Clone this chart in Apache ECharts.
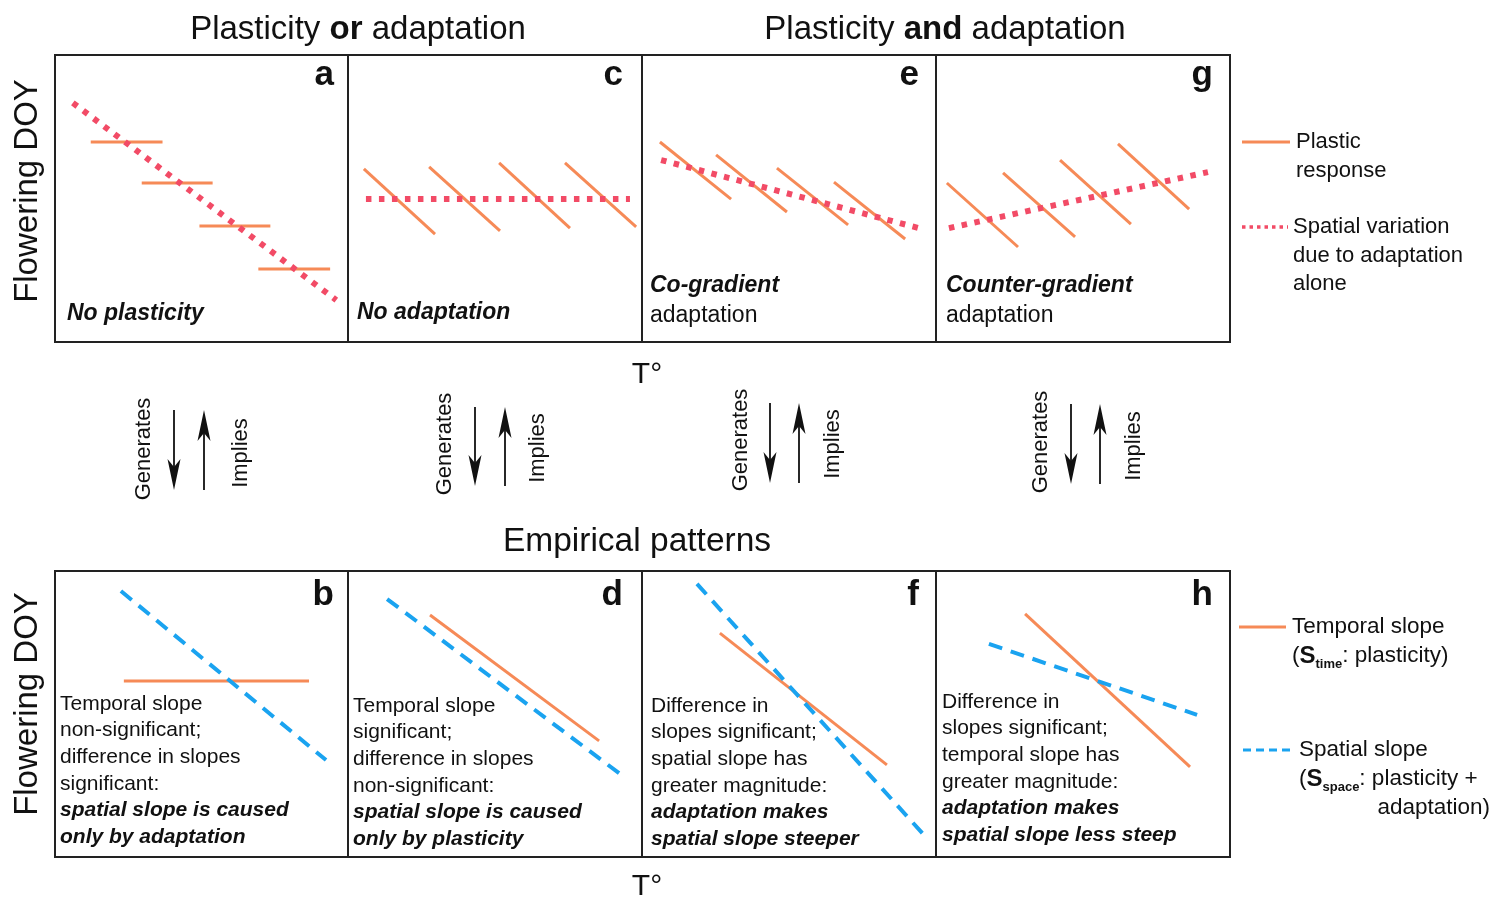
<!DOCTYPE html>
<html>
<head>
<meta charset="utf-8">
<script src="https://cdn.jsdelivr.net/npm/echarts@6/dist/echarts.min.js"></script>
<style>html,body{margin:0;padding:0;background:#fff;}#c{width:1493px;height:897px;}</style>
</head>
<body>
<div id="c"></div>
<script>
// ---- DATA (panel units: x = temperature 0-100, y = flowering DOY 0-100) ----
// segments as [x1, y1, x2, y2]
const panelA_plastic = [[12.2,69.7,36.7,69.7],[29.6,55.4,53.8,55.4],[49.3,40.4,73.5,40.4],[69.4,25.4,93.9,25.4]];
const panelA_spatial = [[6.1,83.3,96.0,14.6]];
const panelC_plastic = [[5.4,60.3,29.6,37.6],[27.6,61.0,51.7,38.7],[51.4,62.4,75.5,39.7],[73.8,62.4,98.0,40.1]];
const panelC_spatial = [[6.1,49.8,95.9,49.8]];
const panelE_plastic = [[6.1,69.7,30.3,49.8],[25.2,65.2,49.3,45.3],[45.9,60.6,70.1,40.8],[65.3,55.7,89.5,35.9]];
const panelE_spatial = [[6.5,63.4,95.2,39.4]];
const panelG_plastic = [[3.7,55.4,27.9,33.1],[22.8,58.9,47.3,36.6],[42.2,63.4,66.3,41.1],[61.9,69.0,86.1,46.3]];
const panelG_spatial = [[4.4,39.7,92.5,59.2]];
const panelB_temporal = [[23.5,61.5,86.7,61.5]];
const panelB_spatialSlope = [[22.5,93.0,92.5,33.9]];
const panelD_temporal = [[27.9,84.6,85.4,40.6]];
const panelD_spatialSlope = [[13.3,90.2,93.9,28.0]];
const panelF_temporal = [[26.5,78.3,83.3,32.2]];
const panelF_spatialSlope = [[18.7,95.5,95.9,7.7]];
const panelH_temporal = [[30.3,85.0,86.4,31.5]];
const panelH_spatialSlope = [[18.0,74.5,88.8,49.7]];

const panelLetters = ['a','c','e','g','b','d','f','h'];
const topNotes = [
  ['{bi|No plasticity}'],
  ['{bi|No adaptation}'],
  ['{bi|Co-gradient}','{r|adaptation}'],
  ['{bi|Counter-gradient}','{r|adaptation}']
];
const bottomNotes = [
  ['Temporal slope','non-significant;','difference in slopes','significant:','{bi|spatial slope is caused}','{bi|only by adaptation}'],
  ['Temporal slope','significant;','difference in slopes','non-significant:','{bi|spatial slope is caused}','{bi|only by plasticity}'],
  ['Difference in','slopes significant;','spatial slope has','greater magnitude:','{bi|adaptation makes}','{bi|spatial slope steeper}'],
  ['Difference in','slopes significant;','temporal slope has','greater magnitude:','{bi|adaptation makes}','{bi|spatial slope less steep}']
];

// ---- STYLES ----
const ORANGE = '#F68A57';
const RED = '#F24B66';
const BLUE = '#1AA3F0';
const FONT = '"Liberation Sans", Arial, sans-serif';

const styles = {
  plastic: {color: ORANGE, width: 3, type: 'solid'},
  spatial: {color: RED, width: 6, type: [5.5, 7.5]},
  temporal: {color: ORANGE, width: 3, type: 'solid'},
  spatialSlope: {color: BLUE, width: 4, type: [14, 9]}
};

const lefts = [55, 348, 642, 936];
const widths = [293, 294, 294, 294];
const grids = [];
for (let r = 0; r < 2; r++) {
  for (let i = 0; i < 4; i++) {
    grids.push({
      left: lefts[i], width: widths[i],
      top: r === 0 ? 55 : 571, height: r === 0 ? 287 : 286,
      show: true, borderColor: '#222', borderWidth: 2, backgroundColor: 'transparent',
      containLabel: false
    });
  }
}
const xAxes = grids.map((g, i) => ({gridIndex: i, type: 'value', min: 0, max: 100, show: false}));
const yAxes = grids.map((g, i) => ({gridIndex: i, type: 'value', min: 0, max: 100, show: false}));

const series = [];
function addSegs(segs, gi, st) {
  segs.forEach(s => {
    series.push({
      type: 'line', xAxisIndex: gi, yAxisIndex: gi, silent: true, animation: false,
      symbol: 'none', data: [[s[0], s[1]], [s[2], s[3]]],
      lineStyle: {color: st.color, width: st.width, type: st.type, cap: 'butt'}
    });
  });
}
addSegs(panelA_plastic, 0, styles.plastic); addSegs(panelA_spatial, 0, styles.spatial);
addSegs(panelC_plastic, 1, styles.plastic); addSegs(panelC_spatial, 1, styles.spatial);
addSegs(panelE_plastic, 2, styles.plastic); addSegs(panelE_spatial, 2, styles.spatial);
addSegs(panelG_plastic, 3, styles.plastic); addSegs(panelG_spatial, 3, styles.spatial);
addSegs(panelB_temporal, 4, styles.temporal); addSegs(panelB_spatialSlope, 4, styles.spatialSlope);
addSegs(panelD_temporal, 5, styles.temporal); addSegs(panelD_spatialSlope, 5, styles.spatialSlope);
addSegs(panelF_temporal, 6, styles.temporal); addSegs(panelF_spatialSlope, 6, styles.spatialSlope);
addSegs(panelH_temporal, 7, styles.temporal); addSegs(panelH_spatialSlope, 7, styles.spatialSlope);

// ---- GRAPHIC (text, arrows, legend) ----
const g = [];
function txt(x, y, text, opt) {
  opt = opt || {};
  g.push({
    type: 'text', x: x, y: y, rotation: opt.rotation || 0, silent: true,
    style: {
      text: text, fill: opt.fill || '#111', font: opt.font || ('22px ' + FONT),
      align: opt.align || 'left', verticalAlign: opt.verticalAlign || 'middle',
      rich: opt.rich, lineHeight: opt.lineHeight
    }
  });
}
// titles
txt(358, 30, 'Plasticity {b|or} adaptation', {align: 'center', font: '33px ' + FONT,
  rich: {b: {font: 'bold 33px ' + FONT, fill: '#111'}}});
txt(945, 30, 'Plasticity {b|and} adaptation', {align: 'center', font: '33px ' + FONT,
  rich: {b: {font: 'bold 33px ' + FONT, fill: '#111'}}});
txt(637, 542, 'Empirical patterns', {align: 'center', font: '33.5px ' + FONT});
// y-axis names
txt(28, 191, 'Flowering DOY', {align: 'center', rotation: Math.PI / 2, font: '33px ' + FONT});
txt(28, 704, 'Flowering DOY', {align: 'center', rotation: Math.PI / 2, font: '33px ' + FONT});
// x-axis names
txt(647, 375, 'T°', {align: 'center', font: '30px ' + FONT});
txt(647, 887, 'T°', {align: 'center', font: '30px ' + FONT});
// panel letters
const rights = [334, 623, 919, 1213];
panelLetters.forEach((L, i) => {
  txt(rights[i % 4], i < 4 ? 75 : 595, L, {align: 'right', font: 'bold 35px ' + FONT});
});
// top notes
const topNoteX = [67, 357, 650, 946];
const topNoteY = [314, 313, 286, 286];
topNotes.forEach((lines, i) => {
  txt(topNoteX[i], topNoteY[i] - 15, lines.join('\n'), {
    verticalAlign: 'top', font: '23px ' + FONT,
    rich: {bi: {font: 'italic bold 23px ' + FONT, fill: '#111', lineHeight: 30},
           r: {font: '23px ' + FONT, fill: '#111', lineHeight: 30}}
  });
});
// bottom notes
const botNoteX = [60, 353, 651, 942];
const botNoteY = [704, 706, 706, 702];
bottomNotes.forEach((lines, i) => {
  const t = lines.map(l => l.indexOf('{') === 0 ? l : '{r|' + l + '}').join('\n');
  txt(botNoteX[i], botNoteY[i] - 13.3, t, {
    verticalAlign: 'top', font: '21px ' + FONT,
    rich: {bi: {font: 'italic bold 21px ' + FONT, fill: '#111', lineHeight: 26.6},
           r: {font: '21px ' + FONT, fill: '#111', lineHeight: 26.6}}
  });
});
// arrows
const downX = [174, 475, 770, 1071];
const upX = [204, 505, 799, 1100];
const arrTop = [410, 407, 403, 404];
const arrBot = [490, 486, 483, 484];
const genX = [144, 445, 741, 1041];
const genY = [449, 444, 440, 442];
const impX = [241, 538, 833, 1134];
const impY = [453, 448, 444, 446];
for (let i = 0; i < 4; i++) {
  const dx = downX[i], ux = upX[i], t = arrTop[i], b = arrBot[i];
  g.push({type: 'line', silent: true, shape: {x1: dx, y1: t, x2: dx, y2: b - 15}, style: {stroke: '#111', lineWidth: 1.8}});
  g.push({type: 'polygon', silent: true, shape: {points: [[dx, b], [dx - 6.5, b - 31], [dx, b - 23], [dx + 6.5, b - 31]]}, style: {fill: '#111'}});
  g.push({type: 'line', silent: true, shape: {x1: ux, y1: b, x2: ux, y2: t + 15}, style: {stroke: '#111', lineWidth: 1.8}});
  g.push({type: 'polygon', silent: true, shape: {points: [[ux, t], [ux - 6.5, t + 31], [ux, t + 23], [ux + 6.5, t + 31]]}, style: {fill: '#111'}});
  txt(genX[i], genY[i], 'Generates', {align: 'center', rotation: Math.PI / 2, font: '22px ' + FONT});
  txt(impX[i], impY[i], 'Implies', {align: 'center', rotation: Math.PI / 2, font: '22px ' + FONT});
}
// legends
g.push({type: 'line', silent: true, shape: {x1: 1242, y1: 142, x2: 1290, y2: 142}, style: {stroke: ORANGE, lineWidth: 3}});
txt(1296, 142 - 14.5, 'Plastic\nresponse', {verticalAlign: 'top', lineHeight: 29});
g.push({type: 'line', silent: true, shape: {x1: 1242, y1: 227, x2: 1288, y2: 227}, style: {stroke: RED, lineWidth: 3.5, lineDash: [3.5, 4]}});
txt(1293, 227 - 14.3, 'Spatial variation\ndue to adaptation\nalone', {verticalAlign: 'top', lineHeight: 28.6});

g.push({type: 'line', silent: true, shape: {x1: 1239, y1: 627, x2: 1286, y2: 627}, style: {stroke: ORANGE, lineWidth: 3}});
txt(1292, 627, 'Temporal slope', {font: '22.5px ' + FONT});
txt(1292, 656, '({S|S}{sub|time}{r|: plasticity)}', {
  font: '22.5px ' + FONT,
  rich: {S: {font: 'bold 24px ' + FONT, fill: '#111', lineHeight: 30, verticalAlign: 'middle'},
         sub: {font: 'bold 13px ' + FONT, fill: '#111', lineHeight: 30, verticalAlign: 'bottom'},
         r: {font: '22.5px ' + FONT, fill: '#111', lineHeight: 30, verticalAlign: 'middle'}}});
g.push({type: 'line', silent: true, shape: {x1: 1243, y1: 750, x2: 1295, y2: 750}, style: {stroke: BLUE, lineWidth: 3, lineDash: [8, 5]}});
txt(1299, 750, 'Spatial slope', {font: '22.5px ' + FONT});
txt(1299, 779, '({S|S}{sub|space}{r|: plasticity +}', {
  font: '22.5px ' + FONT,
  rich: {S: {font: 'bold 24px ' + FONT, fill: '#111', lineHeight: 30, verticalAlign: 'middle'},
         sub: {font: 'bold 13px ' + FONT, fill: '#111', lineHeight: 30, verticalAlign: 'bottom'},
         r: {font: '22.5px ' + FONT, fill: '#111', lineHeight: 30, verticalAlign: 'middle'}}});
txt(1490, 808, 'adaptation)', {align: 'right', font: '22.5px ' + FONT});

const chart = echarts.init(document.getElementById('c'), null, {renderer: 'canvas'});
chart.setOption({
  animation: false,
  backgroundColor: '#fff',
  grid: grids, xAxis: xAxes, yAxis: yAxes,
  series: series,
  graphic: g
});
</script>
</body>
</html>
